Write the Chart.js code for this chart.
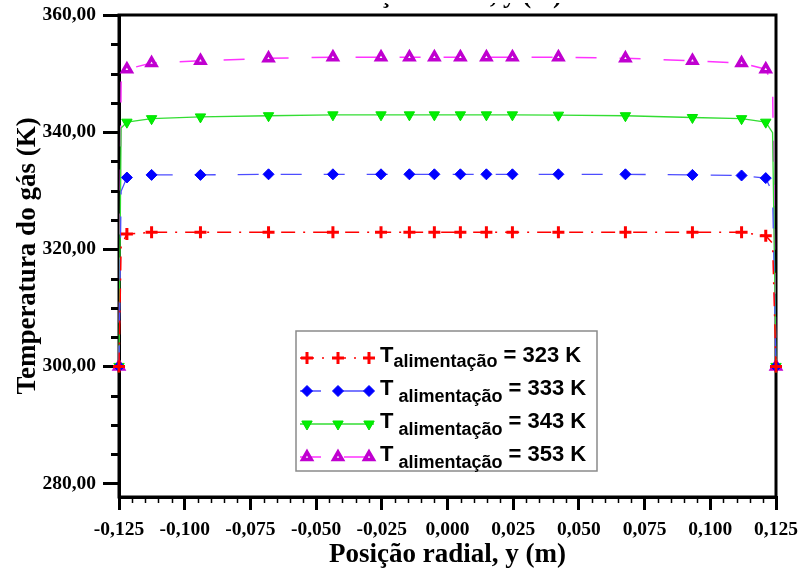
<!DOCTYPE html>
<html><head><meta charset="utf-8">
<script src="https://cdn.jsdelivr.net/npm/chart.js@4/dist/chart.umd.min.js"></script>
<style>html,body{margin:0;padding:0;background:#fff;}canvas{display:block;}</style>
</head><body>
<canvas id="c" width="801" height="573"></canvas>
<script>
// ---- data ----
const positions = [-0.125, -0.1242, -0.1220, -0.1126, -0.0940, -0.0681, -0.0436, -0.0253, -0.0145, -0.0050,
                   0.0049, 0.0148, 0.0247, 0.0422, 0.0677, 0.0932, 0.1119, 0.1211, 0.1237, 0.125];
const markerShown = [1,0,1,1,1,1,1,1,1,1,1,1,1,1,1,1,1,1,0,1];
const t323 = [300, 320.5, 322.6, 322.9, 322.9, 322.9, 322.9, 322.9, 322.9, 322.9, 322.9, 322.9, 322.9, 322.9, 322.9, 322.9, 322.9, 322.3, 321.0, 300];
const t333 = [300, 329.9, 332.25, 332.7, 332.7, 332.8, 332.8, 332.8, 332.8, 332.8, 332.8, 332.8, 332.8, 332.8, 332.8, 332.7, 332.6, 332.15, 329.6, 300];
const t343 = [300, 340.7, 341.7, 342.3, 342.6, 342.8, 342.95, 342.95, 342.95, 342.95, 342.95, 342.95, 342.95, 342.9, 342.8, 342.5, 342.3, 341.7, 339.9, 300];
const t353 = [300, 348.5, 350.75, 351.8, 352.2, 352.6, 352.8, 352.8, 352.8, 352.8, 352.8, 352.8, 352.8, 352.8, 352.6, 352.2, 351.8, 350.75, 348.0, 300];
const feedTemps = ['323 K', '333 K', '343 K', '353 K'];
const legendSymbol = 'T';
const legendSubscript = 'alimentação';
const xTickValues = [-0.125, -0.1, -0.075, -0.05, -0.025, 0, 0.025, 0.05, 0.075, 0.1, 0.125];
const yTickValues = [280, 300, 320, 340, 360];
const xMinorStep = 0.005;
const yMinorStep = 5;
const chartTitle = 'Posição radial, y (m)';
const xTitle = 'Posição radial, y (m)';
const yTitle = 'Temperatura do gás (K)';

// ---- helpers ----
const toPts = vals => positions.map((x, i) => ({x: x, y: vals[i]}));
const radii = r => markerShown.map(m => m ? r : 0);
const SERIF = '"Liberation Serif", "Times New Roman", serif';
const SANS = '"Liberation Sans", Arial, sans-serif';

const datasets = [
  {label: feedTemps[0], data: toPts(t323), borderColor: '#ff0000', borderWidth: 1.5, borderDash: [14, 8, 2, 8],
   pointStyle: 'cross', pointRadius: radii(6), pointBorderWidth: 3, pointBorderColor: '#ff0000', pointBackgroundColor: '#ff0000'},
  {label: feedTemps[1], data: toPts(t333), borderColor: '#4d4dff', borderWidth: 1.3, borderDash: [21, 22],
   pointStyle: 'rectRot', pointRadius: radii(5.5), pointBorderWidth: 1, pointBorderColor: '#0000ff', pointBackgroundColor: '#0000ff'},
  {label: feedTemps[2], data: toPts(t343), borderColor: '#33dd33', borderWidth: 1.3, borderDash: [],
   pointStyle: 'triangle', pointRotation: 180, pointRadius: radii(6), pointBorderWidth: 1, pointBorderColor: '#00e000', pointBackgroundColor: '#00f000'},
  {label: feedTemps[3], data: toPts(t353), borderColor: '#ff33ff', borderWidth: 1.5, borderDash: [21, 23],
   pointStyle: 'triangle', pointRotation: 0, pointRadius: radii(5), pointBorderWidth: 3.5, pointBorderColor: '#c000d0', pointBackgroundColor: '#ffffff'}
];
datasets.forEach(d => { d.showLine = true; d.fill = false; d.tension = 0; d.clip = false; d.pointHoverRadius = 0; });

const fmtComma = (v, dec) => { if (Math.abs(v) < 1e-9) v = 0; return v.toFixed(dec).replace('.', ','); };

function drawMarker(ctx, ds, x, y) {
  ctx.save();
  ctx.fillStyle = ds.pointBackgroundColor;
  ctx.strokeStyle = ds.pointBorderColor;
  ctx.lineWidth = ds.pointBorderWidth;
  ctx.setLineDash([]);
  const r = Math.max.apply(null, ds.pointRadius);
  if (Chart.helpers && Chart.helpers.drawPoint) {
    Chart.helpers.drawPoint(ctx, {pointStyle: ds.pointStyle, rotation: ds.pointRotation || 0, radius: r, borderWidth: ds.pointBorderWidth}, x, y);
  }
  ctx.restore();
}

const framePlugin = {
  id: 'frame',
  beforeDatasetsDraw(chart) {
    const {ctx, chartArea: a, scales: {x, y}} = chart;
    ctx.save();
    ctx.strokeStyle = '#000';
    ctx.lineWidth = 3;
    for (let v = Math.ceil(y.min / yMinorStep) * yMinorStep; v <= y.max + 1e-9; v += yMinorStep) {
      if (yTickValues.some(t => Math.abs(t - v) < 1e-9)) continue;
      const py = Math.round(y.getPixelForValue(v)) + 0.5;
      ctx.beginPath(); ctx.moveTo(a.left - 8, py); ctx.lineTo(a.left, py); ctx.stroke();
    }
    ctx.lineWidth = 1.5;
    for (let v = x.min; v <= x.max + 1e-9; v += xMinorStep) {
      if (xTickValues.some(t => Math.abs(t - v) < 1e-7)) continue;
      const px = Math.round(x.getPixelForValue(v)) + 0.5;
      ctx.beginPath(); ctx.moveTo(px, a.bottom); ctx.lineTo(px, a.bottom + 6); ctx.stroke();
    }
    ctx.lineWidth = 3;
    ctx.strokeRect(a.left, a.top, a.right - a.left, a.bottom - a.top);
    ctx.restore();
  },
  afterDraw(chart) {
    const {ctx, chartArea: a} = chart;
    // title: only its lowest part is inside the picture in the reference
    ctx.save();
    ctx.beginPath();
    ctx.rect(0, 3, chart.width, 12);
    ctx.clip();
    ctx.fillStyle = '#000';
    ctx.font = 'bold 26px ' + SERIF;
    ctx.textAlign = 'center';
    ctx.textBaseline = 'alphabetic';
    ctx.fillText(chartTitle, (a.left + a.right) / 2, 3);
    ctx.restore();

    // legend
    ctx.save();
    const bx = 296, by = 331, bw = 301, bh = 140;
    ctx.fillStyle = '#fff';
    ctx.fillRect(bx, by, bw, bh);
    ctx.strokeStyle = '#8a8a8a';
    ctx.lineWidth = 1.5;
    ctx.strokeRect(bx, by, bw, bh);
    chart.data.datasets.forEach((ds, i) => {
      const ry = 358 + i * 33;
      ctx.save();
      ctx.strokeStyle = ds.borderColor;
      ctx.lineWidth = ds.borderWidth;
      ctx.setLineDash(ds.borderDash || []);
      ctx.beginPath(); ctx.moveTo(300, ry); ctx.lineTo(374, ry); ctx.stroke();
      ctx.restore();
      [307, 338, 369].forEach(mx => drawMarker(ctx, ds, mx, ry));
      ctx.fillStyle = '#000';
      ctx.textAlign = 'left';
      ctx.textBaseline = 'alphabetic';
      ctx.font = 'bold 22px ' + SANS;
      let tx = 380;
      ctx.fillText(legendSymbol, tx, ry + 4);
      tx += ctx.measureText(legendSymbol).width + (i === 0 ? 0 : 5);
      ctx.font = 'bold 18px ' + SANS;
      ctx.fillText(legendSubscript, tx, ry + (i === 0 ? 9 : 11));
      tx += ctx.measureText(legendSubscript).width + 6;
      ctx.font = 'bold 22px ' + SANS;
      ctx.fillText('= ' + ds.label, tx, ry + 4);
    });
    ctx.restore();
  }
};

new Chart(document.getElementById('c'), {
  type: 'scatter',
  data: {datasets: datasets},
  plugins: [framePlugin],
  options: {
    responsive: false,
    animation: false,
    devicePixelRatio: 1,
    events: [],
    layout: {padding: {top: 15, right: 25, left: 0, bottom: 0}},
    plugins: {legend: {display: false}, tooltip: {enabled: false}, title: {display: false}},
    scales: {
      x: {
        type: 'linear', min: -0.125, max: 0.125,
        afterFit(s) { s.height = 76; s.paddingLeft = 0; s.paddingRight = 0; },
        afterBuildTicks(s) { s.ticks = xTickValues.map(v => ({value: v})); },
        grid: {drawOnChartArea: false, drawTicks: true, tickLength: 13, tickWidth: 3, tickColor: '#000', color: '#000', lineWidth: 3},
        border: {display: true, width: 3, color: '#000'},
        ticks: {padding: 8, maxRotation: 0, autoSkip: false, color: '#000',
                font: {family: SERIF, size: 19.5, weight: 'bold'},
                callback: v => fmtComma(v, 3)},
        title: {display: true, text: xTitle, color: '#000', padding: {top: 0, bottom: 2},
                font: {family: SERIF, size: 27, weight: 'bold'}}
      },
      y: {
        type: 'linear', min: 277.7, max: 360,
        afterFit(s) { s.width = 119; s.paddingTop = 0; s.paddingBottom = 0; },
        afterBuildTicks(s) { s.ticks = yTickValues.map(v => ({value: v})); },
        grid: {drawOnChartArea: false, drawTicks: true, tickLength: 16, tickWidth: 3, tickColor: '#000', color: '#000', lineWidth: 3},
        border: {display: true, width: 3, color: '#000'},
        ticks: {padding: 7, autoSkip: false, color: '#000',
                font: {family: SERIF, size: 19.5, weight: 'bold'},
                callback: v => fmtComma(v, 2)},
        title: {display: true, text: yTitle, color: '#000', padding: {top: 12, bottom: 0},
                font: {family: SERIF, size: 27, weight: 'bold'}}
      }
    }
  }
});
</script>
</body></html>
